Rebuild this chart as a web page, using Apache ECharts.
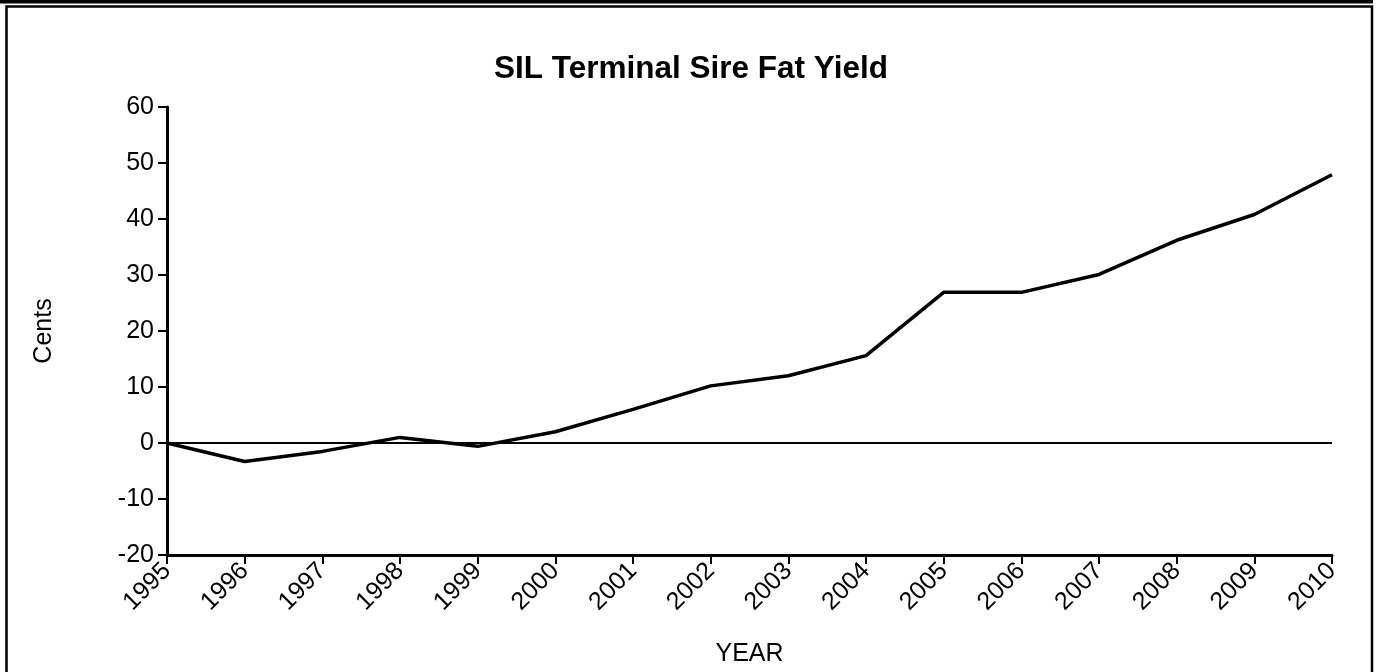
<!DOCTYPE html>
<html>
<head>
<meta charset="utf-8">
<script src="https://cdn.jsdelivr.net/npm/echarts@6/dist/echarts.min.js"></script>
<style>
html,body{margin:0;padding:0;background:#fff;}
#c{width:1382px;height:672px;}
</style>
</head>
<body>
<div id="c"></div>
<script>
const years = ['1995','1996','1997','1998','1999','2000','2001','2002','2003','2004','2005','2006','2007','2008','2009','2010'];
const fatYield = [0, -3.3, -1.5, 1.0, -0.6, 2.0, 6.0, 10.2, 12.0, 15.6, 26.9, 26.9, 30.1, 36.2, 40.8, 47.9];
const yTicks = {min: -20, max: 60, interval: 10};
const titleText = 'SIL Terminal Sire Fat Yield';
const xName = 'YEAR';
const yName = 'Cents';

const FONT = '"Liberation Sans", Arial, Helvetica, sans-serif';
const chart = echarts.init(document.getElementById('c'), null, {renderer: 'canvas'});
chart.setOption({
  animation: false,
  backgroundColor: '#ffffff',
  title: {
    text: titleText,
    left: 'center',
    top: 48,
    textStyle: {fontFamily: FONT, fontSize: 31.5, fontWeight: 'bold', color: '#000'}
  },
  graphic: [
    {type: 'rect', shape: {x: 0, y: 0, width: 1373, height: 3.5}, style: {fill: '#000'}},
    {type: 'rect', shape: {x: 6.5, y: 6.5, width: 1365.5, height: 700}, style: {fill: 'none', stroke: '#000', lineWidth: 2.5}}
  ],
  grid: {left: 167, right: 50, top: 107, bottom: 116},
  xAxis: {
    type: 'category',
    data: years,
    boundaryGap: false,
    name: xName,
    nameLocation: 'middle',
    nameGap: 87,
    nameTextStyle: {fontFamily: FONT, fontSize: 25, color: '#000'},
    axisLine: {onZero: false, lineStyle: {color: '#000', width: 3}},
    axisTick: {show: true, length: 9, lineStyle: {color: '#000', width: 2}},
    axisLabel: {rotate: 45, margin: 12, fontFamily: FONT, fontSize: 25, color: '#000', interval: 0},
    splitLine: {show: false}
  },
  yAxis: {
    type: 'value',
    min: yTicks.min,
    max: yTicks.max,
    interval: yTicks.interval,
    name: yName,
    nameLocation: 'middle',
    nameGap: 110,
    nameTextStyle: {fontFamily: FONT, fontSize: 25, color: '#000'},
    axisLine: {show: true, lineStyle: {color: '#000', width: 3}},
    axisTick: {show: true, length: 9, lineStyle: {color: '#000', width: 2}},
    axisLabel: {margin: 13, fontFamily: FONT, fontSize: 25, color: '#000'},
    splitLine: {show: false}
  },
  series: [{
    type: 'line',
    data: fatYield,
    symbol: 'none',
    lineStyle: {color: '#000', width: 3.5},
    markLine: {
      silent: true,
      symbol: 'none',
      label: {show: false},
      lineStyle: {color: '#000', width: 2, type: 'solid'},
      data: [{yAxis: 0}]
    }
  }]
});
</script>
</body>
</html>
